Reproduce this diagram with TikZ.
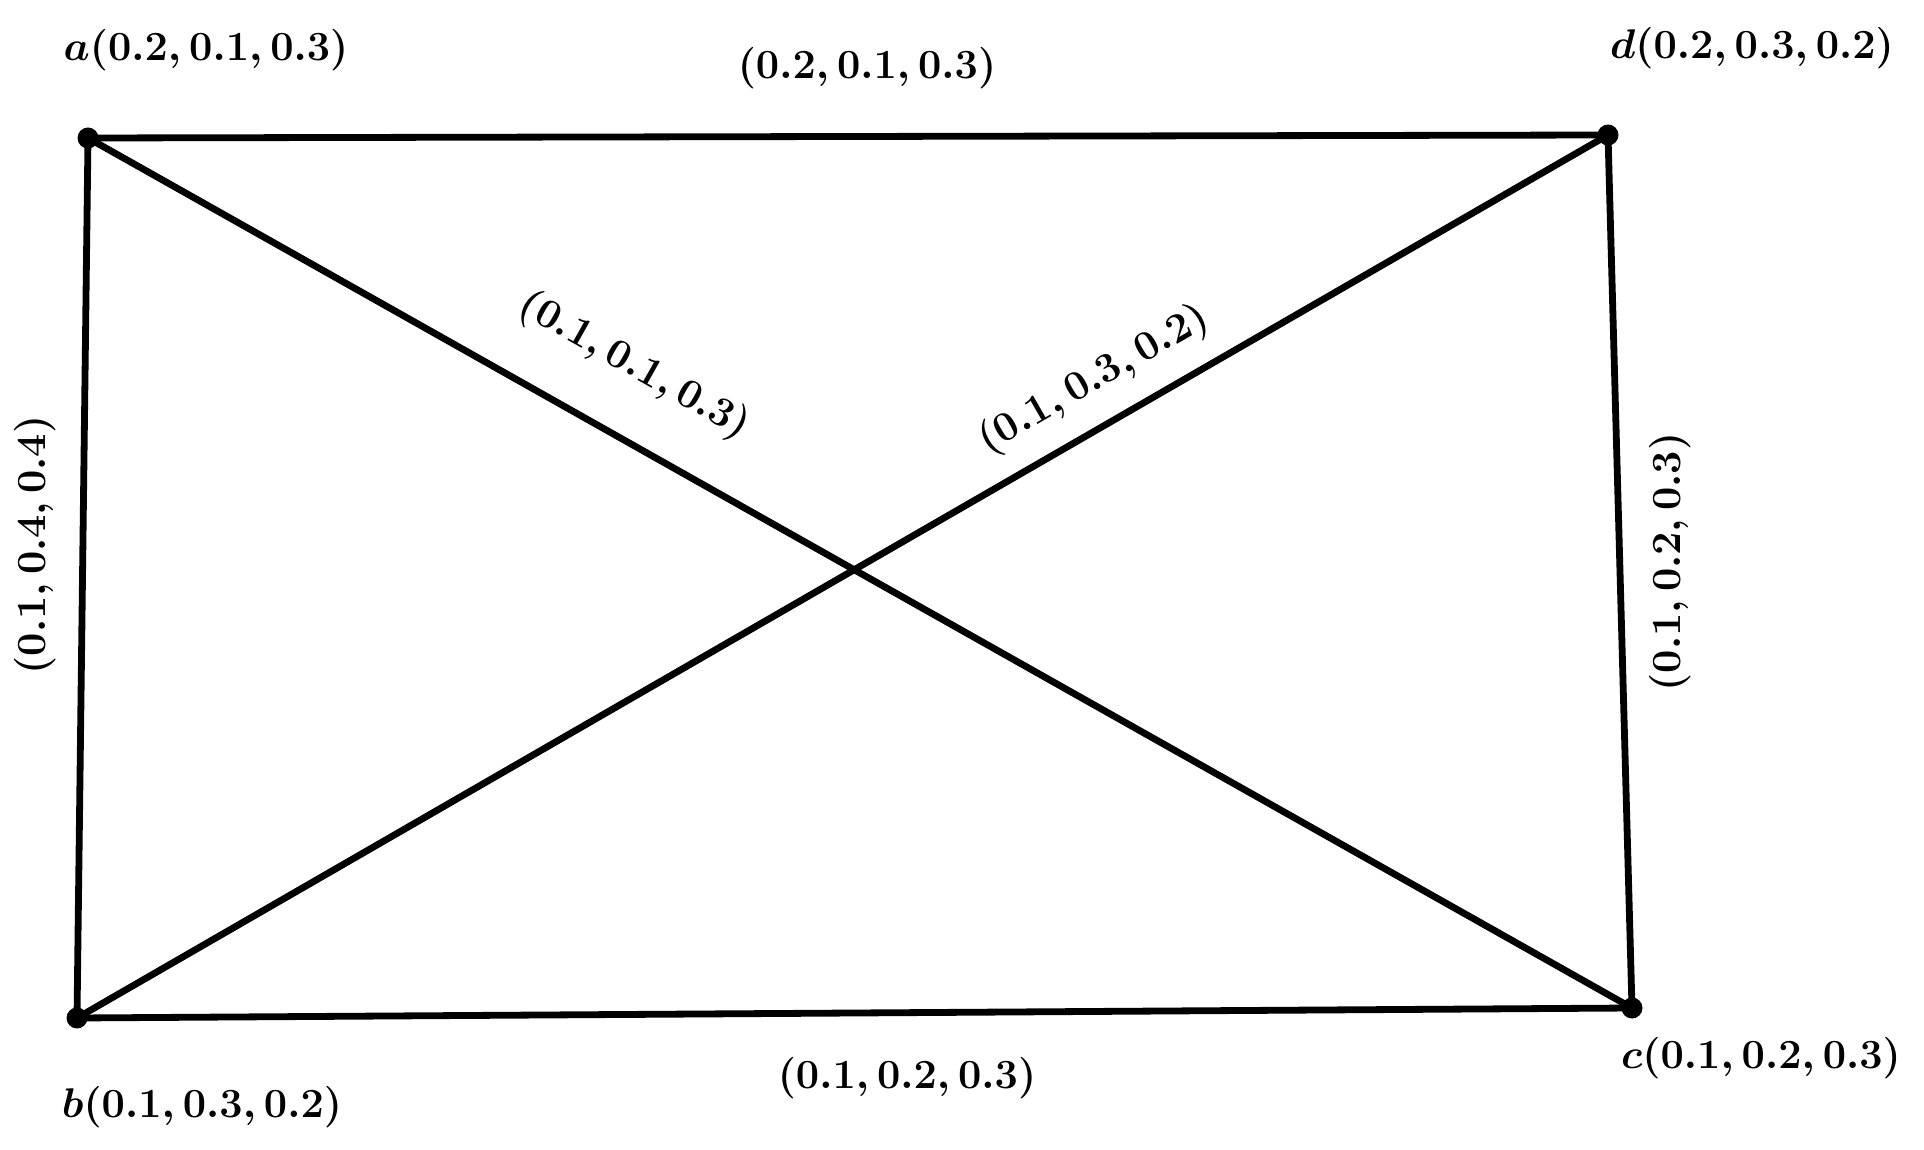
\documentclass[tikz,border=0pt]{standalone}
\begin{document}
\begin{tikzpicture}[x=0.5pt,y=-0.5pt,
  vtx/.style={circle,fill=black,inner sep=0pt,minimum size=10.5pt},
  edge/.style={line width=3.4pt,line cap=round},
  lab/.style={inner sep=0pt,font=\fontsize{22.5}{27}\selectfont\boldmath}]
\useasboundingbox (0,0) rectangle (1924,1150);
\node[vtx] (a) at (88,138) {};
\node[vtx] (d) at (1608,135) {};
\node[vtx] (b) at (77,1018) {};
\node[vtx] (c) at (1632,1008) {};
\draw[edge] (a.center) -- (d.center) -- (c.center) -- (b.center) -- cycle;
\draw[edge] (a.center) -- (c.center);
\draw[edge] (b.center) -- (d.center);
\node[lab] (la) at (206,50) {$a(0.2, 0.1, 0.3)$};
\node[lab] (ld) at (1752,48) {$d(0.2, 0.3, 0.2)$};
\node[lab] (lb) at (202,1107) {$b(0.1, 0.3, 0.2)$};
\node[lab] (lc) at (1761,1058) {$c(0.1, 0.2, 0.3)$};
\node[lab] (lad) at (867,68) {$(0.2, 0.1, 0.3)$};
\node[lab] (lbc) at (907,1078) {$(0.1, 0.2, 0.3)$};
\node[lab,rotate=90] (lab) at (35,545) {$(0.1, 0.4, 0.4)$};
\node[lab,rotate=90] (ldc) at (1670,562) {$(0.1, 0.2, 0.3)$};
\node[lab,rotate=-29.4] (lac) at (634,366) {$(0.1, 0.1, 0.3)$};
\node[lab,rotate=30] (lbd) at (1094,380) {$(0.1, 0.3, 0.2)$};
\end{tikzpicture}
\end{document}
